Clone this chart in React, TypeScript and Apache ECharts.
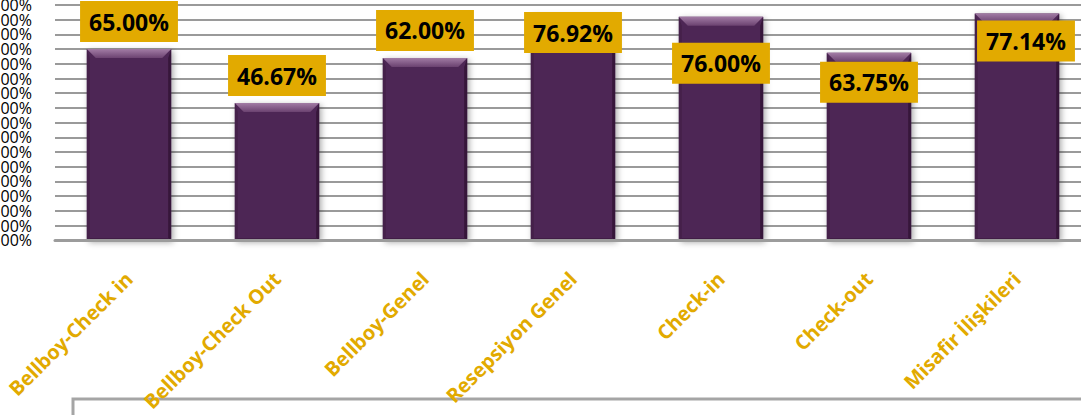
import React, { useEffect, useRef } from "react";
import * as echarts from "echarts";

const categories = [
  "Bellboy-Check in",
  "Bellboy-Check Out",
  "Bellboy-Genel",
  "Resepsiyon Genel",
  "Check-in",
  "Check-out",
  "Misafir İlişkileri",
];
const values = [65.0, 46.67, 62.0, 76.92, 76.0, 63.75, 77.14];
// manual label nudges (as in the original, labels were dragged)
const labelOffsets: [number, number][] = [
  [0, -2],
  [0, -2],
  [0, -2],
  [0, 44],
  [0, 72],
  [0, 55],
  [9, 53],
];
const yMin = 0;
const yMax = 80;
const yStep = 5;

const GOLD = "#E2AA00";
const FONT = "'Open Sans', 'DejaVu Sans', sans-serif";

const fmtPct = (v: number) => v.toFixed(2) + "%";

export default function App() {
  const ref = useRef<HTMLDivElement>(null);
  useEffect(() => {
    if (!ref.current) return;
    const chart = echarts.init(ref.current, undefined, { renderer: "svg" });
    const yLabelBase = {
      color: "#000",
      fontFamily: FONT,
      fontSize: 16,
      margin: 23,
      showMinLabel: true,
      showMaxLabel: true,
      hideOverlap: false,
    };
    const option: any = {
      animation: false,
      grid: {
        left: 55,
        right: -10,
        top: 5,
        bottom: 174.7,
        containLabel: false,
        outerBoundsMode: "none",
      },
      xAxis: {
        type: "category",
        data: categories,
        axisLine: { show: true, lineStyle: { color: "#9c9c9c", width: 3 } },
        axisTick: { show: false },
        axisLabel: {
          interval: 0,
          rotate: 45,
          color: GOLD,
          fontFamily: FONT,
          fontWeight: "bold",
          fontSize: 20,
          margin: 35,
          padding: [35, 0, 0, 0],
          hideOverlap: false,
        },
        z: 5,
      },
      yAxis: [
        {
          type: "value",
          position: "left",
          min: yMin,
          max: yMax,
          interval: yStep,
          axisLine: { show: false },
          axisTick: { show: false },
          splitLine: { show: true, lineStyle: { color: "#9a9a9a", width: 2 } },
          axisLabel: {
            ...yLabelBase,
            formatter: (v: number) =>
              Math.round(v / yStep) % 2 === 0 ? fmtPct(v) : "",
          },
        },
        {
          type: "value",
          position: "left",
          offset: 0,
          min: yMin,
          max: yMax,
          interval: yStep,
          axisLine: { show: false },
          axisTick: { show: false },
          splitLine: { show: false },
          axisLabel: {
            ...yLabelBase,
            formatter: (v: number) =>
              Math.round(v / yStep) % 2 === 1 ? fmtPct(v) : "",
          },
        },
      ],
      graphic: [
        {
          type: "rect",
          z: -1,
          shape: { x: 73, y: 399, width: 1100, height: 100 },
          style: { fill: "none", stroke: "#A5A5A5", lineWidth: 3 },
        },
      ],
      series: [
        {
          type: "custom",
          z: 2,
          yAxisIndex: 0,
          data: values.map((v, i) => [i, v]),
          renderItem: (params: any, api: any) => {
            const i = api.value(0);
            const v = api.value(1);
            const top = api.coord([i, v]);
            const base = api.coord([i, 0]);
            const w = api.size([1, 0])[0] * 0.57;
            const x0 = top[0] - w / 2;
            const x1 = top[0] + w / 2;
            const y0 = top[1];
            const y1 = base[1];
            const b = 9;
            const s = 3;
            return {
              type: "group",
              children: [
                {
                  type: "rect",
                  shape: { x: x0, y: y0, width: w, height: y1 - y0 },
                  style: {
                    fill: "#4E2654",
                    shadowBlur: 6,
                    shadowColor: "rgba(0,0,0,0.35)",
                    shadowOffsetX: 2,
                    shadowOffsetY: 2,
                  },
                },
                {
                  type: "polygon",
                  shape: {
                    points: [
                      [x0, y0],
                      [x0 + s, y0 + b],
                      [x0 + s, y1 - 2],
                      [x0, y1],
                    ],
                  },
                  style: { fill: "#45204A" },
                },
                {
                  type: "polygon",
                  shape: {
                    points: [
                      [x1, y0],
                      [x1 - s, y0 + b],
                      [x1 - s, y1 - 2],
                      [x1, y1],
                    ],
                  },
                  style: { fill: "#36163A" },
                },
                {
                  type: "polygon",
                  shape: {
                    points: [
                      [x0, y1],
                      [x0 + s, y1 - 2],
                      [x1 - s, y1 - 2],
                      [x1, y1],
                    ],
                  },
                  style: { fill: "#3E1B42" },
                },
                {
                  type: "polygon",
                  shape: {
                    points: [
                      [x0, y0],
                      [x1, y0],
                      [x1 - b, y0 + b],
                      [x0 + b, y0 + b],
                    ],
                  },
                  style: {
                    fill: new echarts.graphic.LinearGradient(0, 0, 0, 1, [
                      { offset: 0, color: "#A27CA5" },
                      { offset: 1, color: "#6B4270" },
                    ]),
                  },
                },
              ],
            };
          },
        },
        {
          type: "bar",
          z: 3,
          yAxisIndex: 0,
          barWidth: "57%",
          data: values.map((v, i) => ({
            value: v,
            label: { offset: labelOffsets[i] },
          })),
          itemStyle: { color: "rgba(0,0,0,0)" },
          label: {
            show: true,
            position: "top",
            distance: 5,
            formatter: (p: any) => fmtPct(p.value),
            color: "#000",
            fontFamily: FONT,
            fontWeight: "bold",
            fontSize: 23,
            lineHeight: 27,
            backgroundColor: GOLD,
            padding: [7, 9],
          },
        },
      ],
    };
    chart.setOption(option);
    return () => chart.dispose();
  }, []);
  return (
    <div
      ref={ref}
      style={{ position: "absolute", left: 0, top: 0, width: 1081, height: 415 }}
    />
  );
}
